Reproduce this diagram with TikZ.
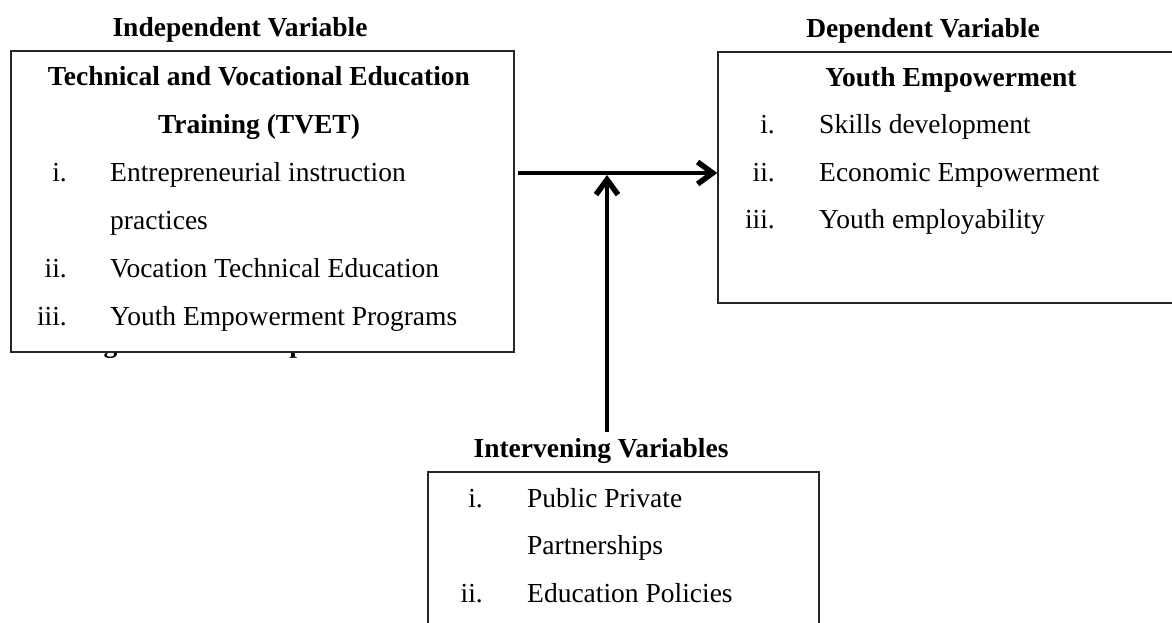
\documentclass[tikz,border=0pt]{standalone}
\usepackage{fontspec}
\setmainfont{Liberation Serif}
\usetikzlibrary{arrows.meta,fit}
\begin{document}
\begin{tikzpicture}[x=1pt,y=-1pt,
  txt/.style={font=\fontsize{27.5}{33}\selectfont, inner sep=0pt},
  hd/.style={font=\fontsize{27.5}{33}\selectfont\bfseries, inner sep=0pt},
  num/.style={txt, anchor=base east},
  item/.style={txt, anchor=base west},
  boxx/.style={draw=black!85, line width=1.5pt, fill=white, inner sep=0pt},
  arr/.style={line width=4.5pt, -{Straight Barb[length=15pt,width=22pt,line width=5.5pt]}}]
\useasboundingbox (0,0) rectangle (1172,623);
\clip (0,0) rectangle (1172,623);

% caption partly hidden behind the left box
\node[hd, anchor=base west] (cap) at (79,352.5) {Figure 2.1: Conceptual Framework};

% left box
\node[boxx, fit={(11,51) (514,352)}] (ivbox) {};
\node[hd, anchor=base] (ivtitle) at (240,37) {Independent Variable};
\node[hd, anchor=base] (iv1) at (259,86) {Technical and Vocational Education};
\node[hd, anchor=base] (iv2) at (259,133.8) {Training (TVET)};
\node[num] (ln1) at (67,181.6) {i.};
\node[item] (lt1) at (110,181.6) {Entrepreneurial instruction};
\node[item] (lt1b) at (110,229.4) {practices};
\node[num] (ln2) at (67,277.2) {ii.};
\node[item] (lt2) at (110,277.2) {Vocation Technical Education};
\node[num] (ln3) at (67,325) {iii.};
\node[item] (lt3) at (110,325) {Youth Empowerment Programs};

% right box
\node[boxx, fit={(718,52) (1200,303)}] (dvbox) {};
\node[hd, anchor=base] (dvtitle) at (923,38) {Dependent Variable};
\node[hd, anchor=base] (dv1) at (951,87) {Youth Empowerment};
\node[num] (rn1) at (775,133.5) {i.};
\node[item] (rt1) at (819,133.5) {Skills development};
\node[num] (rn2) at (775,181) {ii.};
\node[item] (rt2) at (819,181) {Economic Empowerment};
\node[num] (rn3) at (775,228.3) {iii.};
\node[item] (rt3) at (819,228.3) {Youth employability};

% bottom box
\node[boxx, fit={(428,472) (819,650)}] (mvbox) {};
\node[hd, anchor=base] (mvtitle) at (601,457) {Intervening Variables};
\node[num] (bn1) at (483,507) {i.};
\node[item] (bt1) at (527,507) {Public Private};
\node[item] (bt1b) at (527,554) {Partnerships};
\node[num] (bn2) at (483,602) {ii.};
\node[item] (bt2) at (527,602) {Education Policies};

% connectors
\coordinate (hy) at (0,173);
\coordinate (jx) at (607,173);
\draw[arr] ([xshift=3pt]ivbox.east |- hy) -- (dvbox.west |- hy);
\draw[arr] ([yshift=6pt]mvtitle.north -| jx) -- ([yshift=-2pt]jx);
\end{tikzpicture}
\end{document}
